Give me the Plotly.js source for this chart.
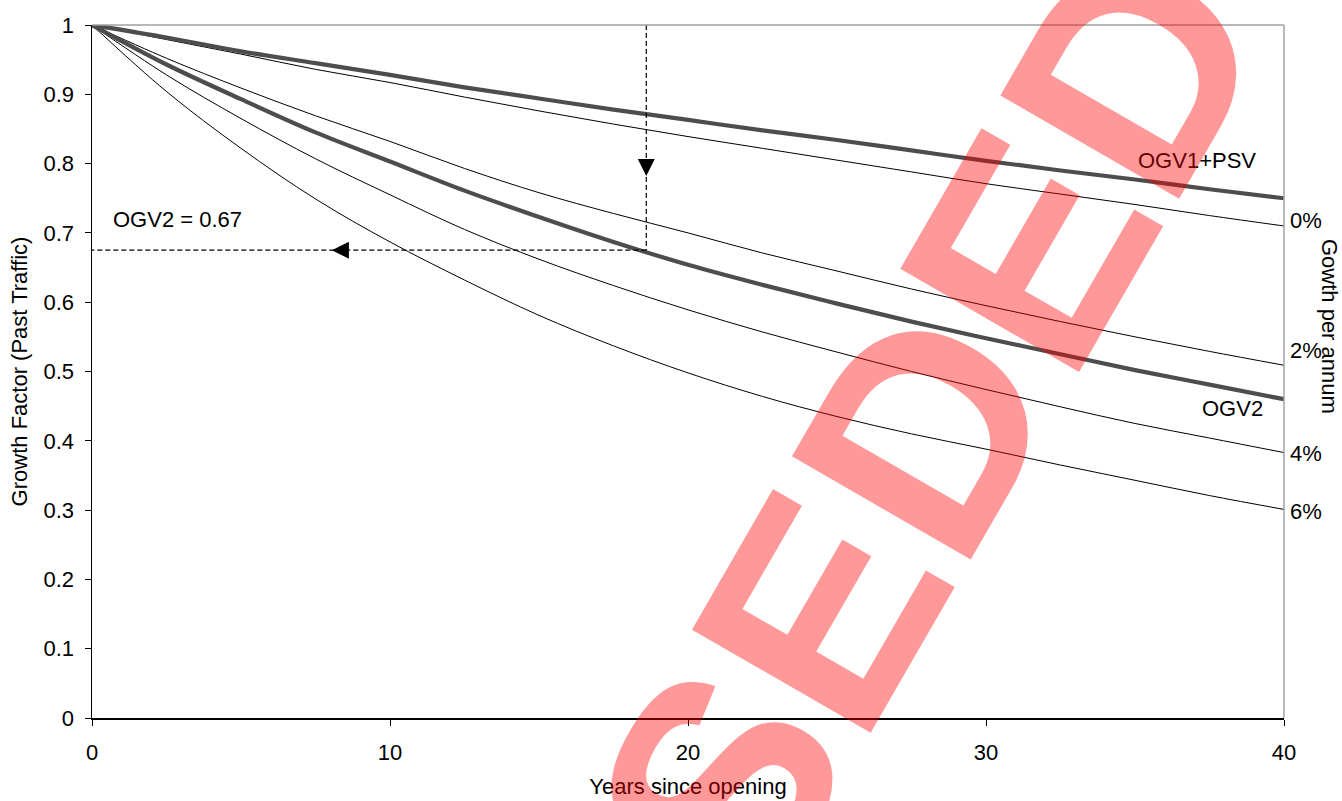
<!DOCTYPE html>
<html>
<head>
<meta charset="utf-8">
<script src="https://cdn.plot.ly/plotly-3.0.1.min.js"></script>
<style>
  html, body { margin: 0; padding: 0; background: #ffffff; }
  #chart { width: 1342px; height: 801px; }
</style>
</head>
<body>
<div id="chart"></div>
<script>
// Years since opening
const years = [0, 2.5, 5, 7.5, 10, 12.5, 15, 17.5, 20, 22.5, 25, 27.5, 30, 32.5, 35, 37.5, 40];

// Growth factor (past traffic) series
const ogv1psv = [1, 0.982, 0.962, 0.945, 0.928, 0.910, 0.894, 0.878, 0.863, 0.848, 0.834, 0.819, 0.804, 0.790, 0.777, 0.763, 0.750];
const growth0 = [1, 0.979, 0.958, 0.936, 0.917, 0.896, 0.876, 0.857, 0.839, 0.822, 0.805, 0.788, 0.771, 0.756, 0.741, 0.725, 0.710];
const growth2 = [1, 0.952, 0.909, 0.869, 0.832, 0.793, 0.758, 0.728, 0.700, 0.671, 0.645, 0.619, 0.595, 0.572, 0.550, 0.529, 0.509];
const ogv2    = [1, 0.943, 0.893, 0.845, 0.803, 0.761, 0.723, 0.687, 0.654, 0.625, 0.598, 0.572, 0.548, 0.525, 0.502, 0.481, 0.460];
const growth4 = [1, 0.928, 0.865, 0.807, 0.755, 0.705, 0.662, 0.624, 0.589, 0.557, 0.528, 0.500, 0.474, 0.449, 0.425, 0.404, 0.383];
const growth6 = [1, 0.904, 0.822, 0.749, 0.687, 0.632, 0.581, 0.537, 0.498, 0.464, 0.435, 0.410, 0.388, 0.365, 0.343, 0.321, 0.301];

// Worked example (dashed read-off)
const exampleYear = 18.6;
const exampleValue = 0.675;
const vLineX = [exampleYear, exampleYear];
const vLineY = [1, exampleValue];
const hLineX = [exampleYear, 0];
const hLineY = [exampleValue, exampleValue];
const downArrowX = [exampleYear];
const downArrowY = [0.782];
const leftArrowX = [8.05];
const leftArrowY = [exampleValue];

// Tick values
const xTicks = [0, 10, 20, 30, 40];
const yTicks = [0, 0.1, 0.2, 0.3, 0.4, 0.5, 0.6, 0.7, 0.8, 0.9, 1];
const yTickText = ['0', '0.1', '0.2', '0.3', '0.4', '0.5', '0.6', '0.7', '0.8', '0.9', '1'];

// Curve end labels
const rateLabels = ['0%', '2%', '4%', '6%'];
const rateLabelY = [0.718, 0.530, 0.382, 0.298];

const FONT = 'Liberation Sans, Arial, sans-serif';
const FS = 22;
const thick = {color: '#4d4d4d', width: 4.2, shape: 'spline', smoothing: 1};
const thin = {color: '#000000', width: 1, shape: 'spline', smoothing: 1};

const traces = [
  {x: years, y: growth0, mode: 'lines', line: thin, name: '0%'},
  {x: years, y: growth2, mode: 'lines', line: thin, name: '2%'},
  {x: years, y: growth4, mode: 'lines', line: thin, name: '4%'},
  {x: years, y: growth6, mode: 'lines', line: thin, name: '6%'},
  {x: years, y: ogv1psv, mode: 'lines', line: thick, name: 'OGV1+PSV'},
  {x: years, y: ogv2, mode: 'lines', line: thick, name: 'OGV2'},
  {x: vLineX, y: vLineY, mode: 'lines', line: {color: '#000', width: 1.2, dash: '5px,3px'}},
  {x: hLineX, y: hLineY, mode: 'lines', line: {color: '#000', width: 1.2, dash: '5px,3px'}},
  {x: downArrowX, y: downArrowY, mode: 'markers',
   marker: {symbol: 'arrow-down', size: 17, color: '#000', line: {width: 0}}},
  {x: leftArrowX, y: leftArrowY, mode: 'markers',
   marker: {symbol: 'arrow-left', size: 17, color: '#000', line: {width: 0}}}
];

const annotations = [];
for (let i = 0; i < rateLabels.length; i++) {
  annotations.push({
    xref: 'paper', yref: 'y', x: 1, y: rateLabelY[i], xanchor: 'left', yanchor: 'middle',
    xshift: 4, text: rateLabels[i], showarrow: false,
    font: {family: FONT, size: FS, color: '#000'}
  });
}
annotations.push(
  {xref: 'x', yref: 'y', x: 40, y: 0.805, xanchor: 'right', yanchor: 'middle', xshift: -26,
   text: 'OGV1+PSV', showarrow: false, font: {family: FONT, size: FS, color: '#000'}},
  {xref: 'x', yref: 'y', x: 40, y: 0.447, xanchor: 'right', yanchor: 'middle', xshift: -19,
   text: 'OGV2', showarrow: false, font: {family: FONT, size: FS, color: '#000'}},
  {xref: 'x', yref: 'y', x: 0.65, y: 0.720, xanchor: 'left', yanchor: 'middle',
   text: 'OGV2 = 0.67', showarrow: false, font: {family: FONT, size: FS, color: '#000'}},
  {xref: 'paper', yref: 'paper', x: 1, y: 0.565, xanchor: 'left', yanchor: 'middle', xshift: 31,
   text: 'Gowth per annum', textangle: 90, showarrow: false,
   font: {family: FONT, size: FS, color: '#000'}},
  {xref: 'paper', yref: 'paper', x: 0.485, y: -0.222, xanchor: 'center', yanchor: 'middle',
   text: '<b>SUPERSEDED</b>', textangle: -60, showarrow: false,
   font: {family: FONT, size: 300, color: 'rgba(255,0,0,0.4)'}}
);

const layout = {
  width: 1342, height: 801,
  margin: {l: 92, r: 58, t: 25, b: 83, pad: 0},
  paper_bgcolor: '#ffffff', plot_bgcolor: '#ffffff',
  showlegend: false,
  font: {family: FONT, size: FS, color: '#000'},
  xaxis: {
    range: [0, 40], tickvals: xTicks, ticktext: xTicks.map(String),
    showgrid: false, zeroline: false, showline: true, linecolor: '#000', linewidth: 1.5,
    ticks: 'outside', ticklen: 6, tickcolor: '#000', tickwidth: 1,
    ticklabelstandoff: 8,
    tickfont: {family: FONT, size: FS, color: '#000'},
    title: {text: 'Years since opening', font: {family: FONT, size: FS, color: '#000'}, standoff: 14},
    automargin: false, fixedrange: true
  },
  yaxis: {
    range: [0, 1], tickvals: yTicks, ticktext: yTickText,
    showgrid: false, zeroline: false, showline: true, linecolor: '#000', linewidth: 1.5,
    ticks: 'outside', ticklen: 6, tickcolor: '#000', tickwidth: 1,
    ticklabelstandoff: 6,
    tickfont: {family: FONT, size: FS, color: '#000'},
    title: {text: 'Growth Factor (Past Traffic)', font: {family: FONT, size: FS, color: '#000'}, standoff: 10},
    automargin: false, fixedrange: true
  },
  shapes: [
    {type: 'line', xref: 'paper', yref: 'paper', x0: 0, x1: 1, y0: 1, y1: 1,
     line: {color: '#a0a0a0', width: 1.5}},
    {type: 'line', xref: 'paper', yref: 'paper', x0: 1, x1: 1, y0: 0, y1: 1,
     line: {color: '#a0a0a0', width: 1.5}}
  ],
  annotations: annotations
};

Plotly.newPlot('chart', traces, layout, {staticPlot: true, displayModeBar: false});
</script>
</body>
</html>
